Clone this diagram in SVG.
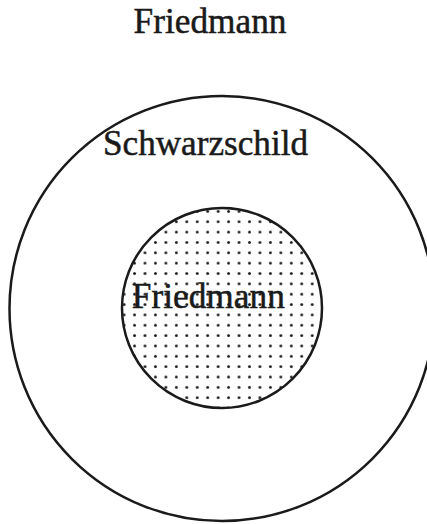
<svg xmlns="http://www.w3.org/2000/svg" width="427" height="524" viewBox="0 0 427 524">
  <style>
    .lbl { font-family: "Liberation Serif", "Times New Roman", serif; font-size: 36px; fill: #1a1a1a; stroke: #1a1a1a; stroke-width: 0.5; text-anchor: middle; }
    .ring { fill: none; stroke: #1a1a1a; stroke-width: 2.5; }
  </style>
  <defs>
    <pattern id="dots" patternUnits="userSpaceOnUse" x="139.775" y="216.55" width="10.45" height="10.35">
      <circle cx="5.225" cy="5.175" r="1.45" fill="#1a1a1a"/>
    </pattern>
  </defs>
  <rect width="427" height="524" fill="#ffffff"/>
  <g id="outer-friedmann">
    <text class="lbl" x="210" y="33" textLength="153" lengthAdjust="spacingAndGlyphs">Friedmann</text>
  </g>
  <g id="schwarzschild">
    <circle class="ring" cx="222" cy="308.5" r="212.5"/>
    <text class="lbl" x="205.5" y="155" textLength="205" lengthAdjust="spacingAndGlyphs">Schwarzschild</text>
  </g>
  <g id="inner-friedmann">
    <circle cx="222" cy="308" r="100" fill="url(#dots)"/>
    <circle class="ring" cx="222" cy="308" r="100"/>
    <text class="lbl" x="208.3" y="308" textLength="153" lengthAdjust="spacingAndGlyphs">Friedmann</text>
  </g>
  <g id="connectors"/>
</svg>
